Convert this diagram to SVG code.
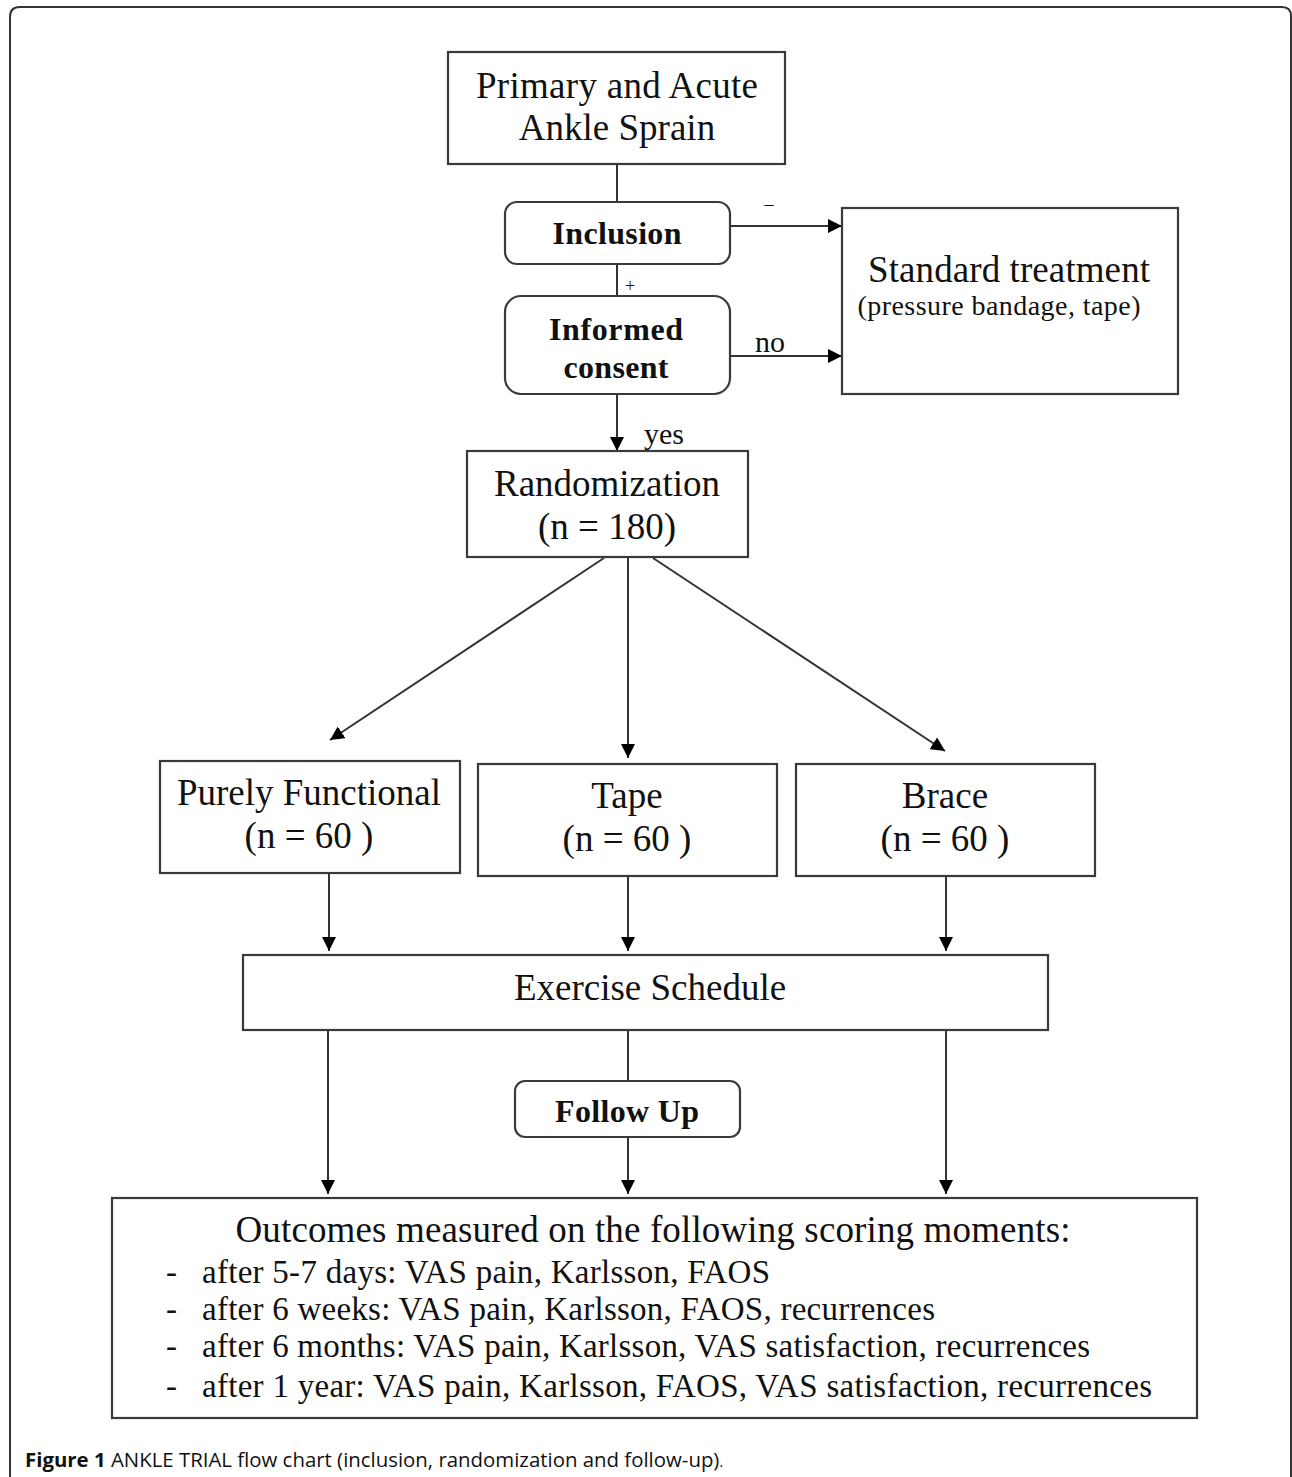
<svg xmlns="http://www.w3.org/2000/svg" width="1292" height="1477" viewBox="0 0 1292 1477">
<style>
.box{fill:#fff;stroke:#3a3a3a;stroke-width:2.2}
.t{font-family:"Liberation Serif","Times New Roman",serif;fill:#111;text-anchor:middle}
.b{font-weight:bold}
.ln{stroke:#333;stroke-width:2;fill:none}
.cap{font-family:"Open Sans","Liberation Sans",sans-serif;font-size:20.4px;fill:#111}
</style>
<defs>
<marker id="ah" viewBox="0 0 10 10" refX="10" refY="5" markerWidth="14" markerHeight="14" markerUnits="userSpaceOnUse" orient="auto">
<path d="M0,0 L10,5 L0,10 Z" fill="#000"/>
</marker>
</defs>
<rect x="0" y="0" width="1292" height="1477" fill="#fff"/>
<path d="M10,1477 L10,17 Q10,7 20,7 L1282,7 Q1291,7 1291,16 L1291,1477" fill="none" stroke="#333" stroke-width="2"/>

<g id="connectors">
<line class="ln" x1="617" y1="164" x2="617" y2="202"/>
<line class="ln" x1="617" y1="264" x2="617" y2="296"/>
<line class="ln" x1="730" y1="226" x2="842" y2="226" marker-end="url(#ah)"/>
<line class="ln" x1="730" y1="356" x2="842" y2="356" marker-end="url(#ah)"/>
<line class="ln" x1="617" y1="394" x2="617" y2="451" marker-end="url(#ah)"/>
<line class="ln" x1="604" y1="558" x2="330" y2="740" marker-end="url(#ah)"/>
<line class="ln" x1="628" y1="558" x2="628" y2="758" marker-end="url(#ah)"/>
<line class="ln" x1="653" y1="558" x2="945" y2="751" marker-end="url(#ah)"/>
<line class="ln" x1="329" y1="873" x2="329" y2="951" marker-end="url(#ah)"/>
<line class="ln" x1="628" y1="876" x2="628" y2="951" marker-end="url(#ah)"/>
<line class="ln" x1="946" y1="876" x2="946" y2="951" marker-end="url(#ah)"/>
<line class="ln" x1="328" y1="1030" x2="328" y2="1194" marker-end="url(#ah)"/>
<line class="ln" x1="628" y1="1030" x2="628" y2="1081"/>
<line class="ln" x1="628" y1="1137" x2="628" y2="1194" marker-end="url(#ah)"/>
<line class="ln" x1="946" y1="1030" x2="946" y2="1194" marker-end="url(#ah)"/>
<text class="t" x="769" y="210" font-size="18" fill="#555">–</text>
<text class="t" x="630" y="292" font-size="18" fill="#555">+</text>
<text class="t" x="770" y="352" font-size="30">no</text>
<text class="t" x="664" y="444" font-size="30">yes</text>
</g>

<g id="n-sprain">
<rect class="box" x="448" y="52" width="337" height="112"/>
<text class="t" x="617" y="98" font-size="37" textLength="282">Primary and Acute</text>
<text class="t" x="617" y="140" font-size="37">Ankle Sprain</text>
</g>

<g id="n-inclusion">
<rect class="box" x="505" y="202" width="225" height="62" rx="12"/>
<text class="t b" x="617" y="244" font-size="32" textLength="129">Inclusion</text>
</g>

<g id="n-consent">
<rect class="box" x="505" y="296" width="225" height="98" rx="16"/>
<text class="t b" x="616" y="340" font-size="32" textLength="134">Informed</text>
<text class="t b" x="616" y="378" font-size="32" textLength="105">consent</text>
</g>

<g id="n-standard">
<rect class="box" x="842" y="208" width="336" height="186"/>
<text class="t" x="1009" y="282" font-size="37" textLength="282">Standard treatment</text>
<text class="t" x="999" y="315" font-size="28" textLength="283">(pressure bandage, tape)</text>
</g>

<g id="n-random">
<rect class="box" x="467" y="451" width="281" height="106"/>
<text class="t" x="607" y="496" font-size="37">Randomization</text>
<text class="t" x="607" y="539" font-size="37">(n = 180)</text>
</g>

<g id="n-functional">
<rect class="box" x="160" y="761" width="300" height="112"/>
<text class="t" x="309" y="805" font-size="37">Purely Functional</text>
<text class="t" x="309" y="848" font-size="37">(n = 60 )</text>
</g>

<g id="n-tape">
<rect class="box" x="478" y="764" width="299" height="112"/>
<text class="t" x="627" y="808" font-size="37">Tape</text>
<text class="t" x="627" y="851" font-size="37">(n = 60 )</text>
</g>

<g id="n-brace">
<rect class="box" x="796" y="764" width="299" height="112"/>
<text class="t" x="945" y="808" font-size="37">Brace</text>
<text class="t" x="945" y="851" font-size="37">(n = 60 )</text>
</g>

<g id="n-exercise">
<rect class="box" x="243" y="955" width="805" height="75"/>
<text class="t" x="650" y="1000" font-size="37">Exercise Schedule</text>
</g>

<g id="n-followup">
<rect class="box" x="515" y="1081" width="225" height="56" rx="10"/>
<text class="t b" x="627" y="1122" font-size="32" textLength="144">Follow Up</text>
</g>

<g id="n-outcomes">
<rect class="box" x="112" y="1198" width="1085" height="220"/>
<text class="t" x="653" y="1242" font-size="37" textLength="835">Outcomes measured on the following scoring moments:</text>
<g font-family="Liberation Serif,Times New Roman,serif" font-size="33" fill="#111">
<text x="166" y="1283">-</text><text x="202" y="1283" textLength="568">after 5-7 days: VAS pain, Karlsson, FAOS</text>
<text x="166" y="1320">-</text><text x="202" y="1320" textLength="733">after 6 weeks: VAS pain, Karlsson, FAOS, recurrences</text>
<text x="166" y="1357">-</text><text x="202" y="1357" textLength="888">after 6 months: VAS pain, Karlsson, VAS satisfaction, recurrences</text>
<text x="166" y="1397">-</text><text x="202" y="1397" textLength="950">after 1 year: VAS pain, Karlsson, FAOS, VAS satisfaction, recurrences</text>
</g>
</g>

<text class="cap" x="25" y="1467"><tspan font-weight="bold">Figure 1</tspan> ANKLE TRIAL flow chart (inclusion, randomization and follow-up)<tspan font-size="14">.</tspan></text>
</svg>
